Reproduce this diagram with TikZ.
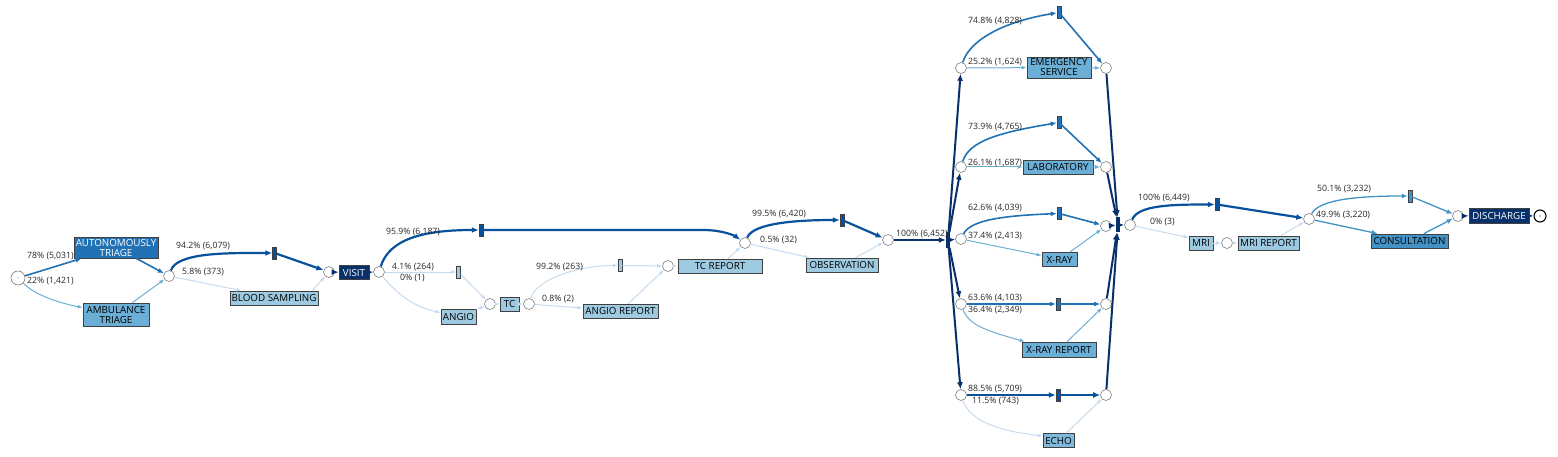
\documentclass[tikz,border=0pt]{standalone}
\usepackage{fontspec}
\setmainfont{Open Sans}
\usetikzlibrary{arrows.meta}
\definecolor{navy}{HTML}{08306B}
\definecolor{dblue}{HTML}{08519C}
\definecolor{mblue}{HTML}{2171B5}
\definecolor{cblue}{HTML}{4292C6}
\definecolor{lblue}{HTML}{6BAED6}
\definecolor{eblue}{HTML}{7FB9DC}
\definecolor{pblue}{HTML}{9ECAE1}
\definecolor{fblue}{HTML}{C6DBEF}
\definecolor{boxline}{HTML}{404040}
\tikzset{
  act/.style={draw=boxline, line width=0.8pt, fill=pblue, inner xsep=1.5pt, inner ysep=0pt,
    minimum height=14pt, font=\fontsize{9.8}{10}\selectfont, align=center},
  plc/.style={circle, draw=gray, line width=0.6pt, fill=white, minimum size=11pt, inner sep=0pt},
  tau/.style={draw=boxline, line width=0.5pt, fill=dblue, minimum width=4pt, minimum height=12pt, inner sep=0pt},
  gate/.style={fill=navy, minimum width=4pt, minimum height=15pt, inner sep=0pt},
  lbl/.style={anchor=west, inner sep=0pt, font=\fontsize{8.7}{9}\selectfont, text=black!85},
  fn/.style={-{Latex[length=7pt,width=6pt]}, draw=navy, line width=2.2pt},
  f6/.style={-{Latex[length=7pt,width=6pt]}, draw=dblue, line width=2.2pt},
  f4/.style={-{Latex[length=6pt,width=5pt]}, draw=mblue, line width=1.6pt},
  f3/.style={-{Latex[length=6pt,width=5pt]}, draw=cblue, line width=1.3pt},
  f2/.style={-{Latex[length=5pt,width=4pt]}, draw=lblue, line width=1pt},
  f0/.style={-{Latex[length=5pt,width=4pt]}, draw=fblue, line width=1pt},
}
\begin{document}
\begin{tikzpicture}[x=1pt, y=-1pt]
\useasboundingbox (0,0) rectangle (1558,457);

% places
\node[plc, minimum size=14pt] (start) at (18,278) {};
\node[circle, fill=gray, inner sep=0.4pt] (startdot) at (start) {};
\node[plc] (p1) at (169,276) {};
\node[plc] (p2) at (329,272) {};
\node[plc] (p3) at (379,272) {};
\node[plc] (pTC) at (490,304) {};
\node[plc] (pTC2) at (529,304) {};
\node[plc] (pTCR) at (668,266) {};
\node[plc] (p4) at (745,243) {};
\node[plc] (p5) at (888,240) {};
\foreach \i/\yl/\yr in {e/68/68, l/167/167, x/239/226, r/304/304, c/395/395}{
  \node[plc] (L\i) at (961,\yl) {};
  \node[plc] (R\i) at (1106,\yr) {};
}
\node[plc] (p7) at (1130,225) {};
\node[plc] (pMRI) at (1227,243) {};
\node[plc] (p8) at (1309,219) {};
\node[plc] (p9) at (1458,216) {};
\node[plc, draw=black, line width=1.1pt, minimum size=12pt] (end) at (1540,216) {};
\node[circle, fill=black, inner sep=0.4pt] (enddot) at (end) {};

% silent steps and gates
\node[tau] (t1) at (274.5,253) {};
\node[tau] (t2) at (481,230) {};
\node[tau, fill=pblue] (t3) at (458.5,272) {};
\node[tau, fill=pblue] (t4) at (620,265.5) {};
\node[tau] (t5) at (842,220) {};
\node[tau, fill=mblue] (Te) at (1059,12.5) {};
\node[tau, fill=mblue] (Tl) at (1059,122.5) {};
\node[tau, fill=mblue] (Tx) at (1059,213.5) {};
\node[tau, fill=mblue] (Tr) at (1058,304) {};
\node[tau] (Tc) at (1058,395) {};
\node[tau] (t6) at (1217,204.5) {};
\node[tau, fill=cblue] (t7) at (1410,196) {};
\node[gate] (split) at (948,240) {};
\node[gate] (join) at (1118,225) {};

% activities
\node[act, fill=mblue, text=white, minimum width=84pt, minimum height=21pt] (AT) at (116,247.5) {AUTONOMOUSLY\\TRIAGE};
\node[act, fill=lblue, minimum width=66pt, minimum height=23pt] (AMB) at (116,314.5) {AMBULANCE\\TRIAGE};
\node[act, minimum width=88pt] (BS) at (274,298) {BLOOD SAMPLING};
\node[act, fill=navy, text=white, minimum width=30pt] (VISIT) at (354,272.5) {VISIT};
\node[act, minimum width=35pt, minimum height=15pt] (ANGIO) at (458.5,316.5) {ANGIO};
\node[act, minimum width=19pt] (TC) at (509.5,304) {TC};
\node[act, minimum width=75pt] (AR) at (620.5,311) {ANGIO REPORT};
\node[act, minimum width=84pt] (TCR) at (720,266) {TC REPORT};
\node[act, minimum width=72pt] (OBS) at (842,265) {OBSERVATION};
\node[act, fill=lblue, minimum width=64pt, minimum height=21pt] (ES) at (1059,67.5) {EMERGENCY\\SERVICE};
\node[act, fill=lblue, minimum width=70pt] (LAB) at (1058,167) {LABORATORY};
\node[act, fill=lblue, minimum width=35pt] (XRAY) at (1059.5,259.5) {X-RAY};
\node[act, fill=lblue, minimum width=74pt, minimum height=15pt] (XRR) at (1059,349.5) {X-RAY REPORT};
\node[act, fill=eblue, minimum width=31pt] (ECHO) at (1058.5,440.5) {ECHO};
\node[act, minimum width=24pt] (MRI) at (1201,243) {MRI};
\node[act, minimum width=61pt] (MRIR) at (1268.5,243) {MRI REPORT};
\node[act, fill=cblue, minimum width=77pt] (CONS) at (1409.5,241) {CONSULTATION};
\node[act, fill=navy, text=white, minimum width=60pt, minimum height=15pt] (DIS) at (1499,215.5) {DISCHARGE};

% triage
\draw[f4] (start) -- ([xshift=8pt]AT.south west);
\draw[f2] (start) .. controls +(15,15) and +(-30,-6) .. ([yshift=-5pt]AMB.north west);
\draw[f4] (AT) -- (p1);
\draw[f2] (AMB) -- (p1);
\draw[f6] (p1) .. controls +(8,-24) and +(-45,0) .. (t1);
\draw[f6] (t1) -- (p2);
\draw[f0] (p1) -- ([xshift=12pt]BS.north west);
\draw[f0] ([xshift=-6pt]BS.north east) -- (p2);
\draw[fn] (p2) -- (VISIT);
\draw[fn] (VISIT) -- (p3);

% imaging
\draw[f6] (p3) .. controls +(10,-32) and +(-60,0) .. (t2);
\draw[f6] (t2) -- ++(222,0) .. controls +(20,0) and +(-10,-7) .. (p4);
\draw[f0] (p3) -- (t3);
\draw[f0] (p3) .. controls +(15,18) and +(-30,-6) .. ([yshift=4pt]ANGIO.west);
\draw[f0] (t3) -- (pTC);
\draw[f0] (ANGIO) -- (pTC);
\draw[f0] (pTC) -- (TC);
\draw[f0] (TC) -- (pTC2);
\draw[f0] (pTC2) .. controls +(8,-26) and +(-40,0) .. (t4);
\draw[f0] (pTC2) -- ([yshift=3pt]AR.west);
\draw[f0] (t4) -- (pTCR);
\draw[f0] (AR) -- (pTCR);
\draw[f0] (pTCR) -- (TCR);
\draw[f0] (TCR) -- (p4);
\draw[f6] (p4) .. controls +(8,-20) and +(-45,0) .. (t5);
\draw[f6] (t5) -- (p5);
\draw[f0] (p4) -- ([xshift=4pt]OBS.north west);
\draw[f0] (OBS) -- (p5);
\draw[fn] (p5) -- (split);

% parallel block
\foreach \i in {e,l,x,r,c}{
  \draw[fn, line width=2pt] (split) -- (L\i);
  \draw[fn, line width=2pt] (R\i) -- (join);
}
\draw[f4] (Le) .. controls +(8,-26) and +(-60,10) .. (Te);
\draw[f4] (Te) -- (Re);
\draw[f2] (Le) -- (ES);
\draw[f2] (ES) -- (Re);
\draw[f4] (Ll) .. controls +(8,-26) and +(-60,10) .. (Tl);
\draw[f4] (Tl) -- (Rl);
\draw[f2] (Ll) -- (LAB);
\draw[f2] (LAB) -- (Rl);
\draw[f4] (Lx) .. controls +(10,-20) and +(-50,2) .. (Tx);
\draw[f4] (Tx) -- (Rx);
\draw[f2] (Lx) -- ([yshift=4pt]XRAY.west);
\draw[f2] (XRAY) -- (Rx);
\draw[f4] (Lr) -- (Tr);
\draw[f4] (Tr) -- (Rr);
\draw[f2] (Lr) .. controls +(8,22) and +(-35,-10) .. ([xshift=3pt]XRR.north west);
\draw[f2] (XRR) -- (Rr);
\draw[f6, line width=1.8pt] (Lc) -- (Tc);
\draw[f6, line width=1.8pt] (Tc) -- (Rc);
\draw[f0] (Lc) .. controls +(10,28) and +(-40,-5) .. ([yshift=-3pt]ECHO.north west);
\draw[f0] (ECHO) -- (Rc);
\draw[fn, line width=2pt] (join) -- (p7);

% closing
\draw[f6] (p7) .. controls +(8,-20) and +(-45,0) .. (t6);
\draw[f6] (t6) -- (p8);
\draw[f0] (p7) -- ([yshift=-2pt]MRI.north west);
\draw[f0] (MRI) -- (pMRI);
\draw[f0] (pMRI) -- (MRIR);
\draw[f0] (MRIR) -- (p8);
\draw[f3] (p8) .. controls +(10,-20) and +(-50,0) .. (t7);
\draw[f3] (t7) -- (p9);
\draw[f3] (p8) -- ([xshift=7pt]CONS.north west);
\draw[f3] (CONS) -- (p9);
\draw[fn] (p9) -- (DIS);
\draw[fn] (DIS) -- (end);

% frequencies
\node[lbl] (l78) at (27,256) {78\% (5,031)};
\node[lbl] (l22) at (27,281) {22\% (1,421)};
\node[lbl] (l942) at (176,246) {94.2\% (6,079)};
\node[lbl] (l58) at (182,272) {5.8\% (373)};
\node[lbl] (l959) at (386,232) {95.9\% (6,187)};
\node[lbl] (l41) at (392,267) {4.1\% (264)};
\node[lbl] (l0a) at (400,278) {0\% (1)};
\node[lbl] (l992) at (536,267) {99.2\% (263)};
\node[lbl] (l08) at (542,299) {0.8\% (2)};
\node[lbl] (l995) at (752,214) {99.5\% (6,420)};
\node[lbl] (l05) at (760,240) {0.5\% (32)};
\node[lbl] (l100a) at (896,234) {100\% (6,452)};
\node[lbl] (l748) at (968,21) {74.8\% (4,828)};
\node[lbl] (l252) at (968,62) {25.2\% (1,624)};
\node[lbl] (l739) at (968,127) {73.9\% (4,765)};
\node[lbl] (l261) at (968,163) {26.1\% (1,687)};
\node[lbl] (l626) at (968,208) {62.6\% (4,039)};
\node[lbl] (l374) at (968,236) {37.4\% (2,413)};
\node[lbl] (l636) at (968,298) {63.6\% (4,103)};
\node[lbl] (l364) at (968,310) {36.4\% (2,349)};
\node[lbl] (l885) at (968,389) {88.5\% (5,709)};
\node[lbl] (l115) at (972,401) {11.5\% (743)};
\node[lbl] (l100b) at (1138,198) {100\% (6,449)};
\node[lbl] (l0b) at (1150,222) {0\% (3)};
\node[lbl] (l501) at (1317,189) {50.1\% (3,232)};
\node[lbl] (l499) at (1316,215) {49.9\% (3,220)};
\end{tikzpicture}
\end{document}
